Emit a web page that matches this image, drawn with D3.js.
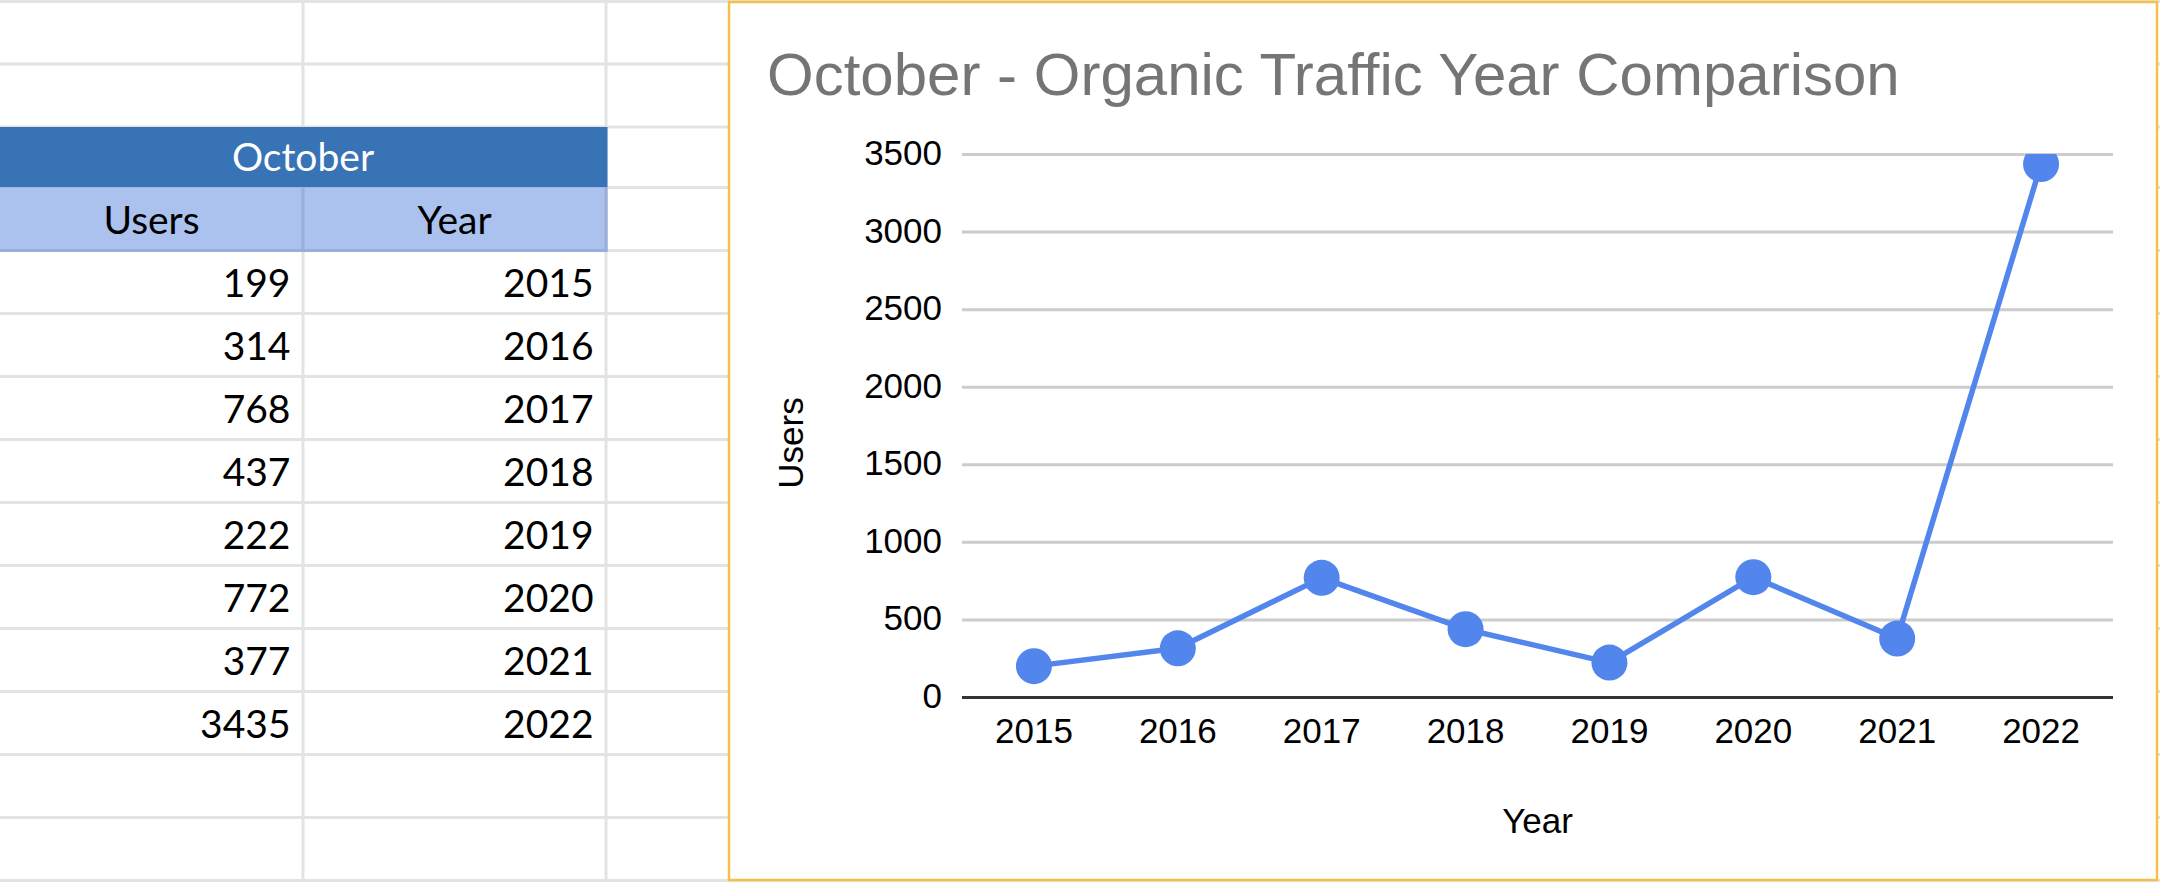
<!DOCTYPE html>
<html>
<head>
<meta charset="utf-8">
<script src="https://cdn.jsdelivr.net/npm/d3@7"></script>
<style>
    html, body { margin: 0; padding: 0; background: #fff; }
    svg { display: block; }
</style>
</head>
<body>
<div id="chart"></div>
<script>
// data read from the sheet
var years = ["2015", "2016", "2017", "2018", "2019", "2020", "2021", "2022"];
var users = [199, 314, 768, 437, 222, 772, 377, 3435];
var yTicks = [0, 500, 1000, 1500, 2000, 2500, 3000, 3500];
var tableTitle = "October";
var tableHeaders = ["Users", "Year"];
var chartTitle = "October - Organic Traffic Year Comparison";
var xTitle = "Year";
var yTitle = "Users";

class SheetView {
    constructor(container) {
        this._container = container;
        this._width = 2160;
        this._height = 882;
        this._svg = null;

        // sheet grid
        this._cols = [0, 303, 606, 909];
        this._rows = [1.5, 64, 127, 187.5].concat(d3.range(11).map(function(k) { return 250.5 + 63 * k; }));

        // chart box + plot area
        this._box = { x: 729, y: 2, w: 1428, h: 878 };
        this._plot = { left: 962, right: 2113, top: 154, bottom: 697 };

        this._style = {
            cellFont: "Lato, 'Noto Sans', sans-serif",
            chartFont: "'Liberation Sans', Arial, sans-serif",
            gridColor: "#e2e3e3",
            headDark: "#3873b6",
            headLight: "#abc2ef",
            headBorder: "#9badd9",
            lineColor: "#5386ec"
        };
    }

    render() {
        this._svg = d3.select(this._container).append("svg")
            .attr("width", this._width)
            .attr("height", this._height);

        this._drawTable();
        this._drawChart();
        return this;
    }

    _drawTable() {
        var s = this._style, cols = this._cols, rows = this._rows, svg = this._svg;
        var g = svg.append("g").attr("class", "sheet");

        g.selectAll("line.h").data(rows).enter().append("line")
            .attr("class", "h")
            .attr("x1", 0).attr("x2", this._width)
            .attr("y1", function(d) { return d; }).attr("y2", function(d) { return d; })
            .attr("stroke", s.gridColor).attr("stroke-width", 3);

        g.selectAll("line.v").data(cols.slice(1)).enter().append("line")
            .attr("class", "v")
            .attr("x1", function(d) { return d; }).attr("x2", function(d) { return d; })
            .attr("y1", 0).attr("y2", this._height)
            .attr("stroke", s.gridColor).attr("stroke-width", 3);

        // merged title row
        g.append("rect")
            .attr("x", 0).attr("y", rows[2])
            .attr("width", cols[2] + 1.5).attr("height", rows[3] - rows[2])
            .attr("fill", s.headDark);
        g.append("text")
            .attr("x", cols[2] / 2).attr("y", rows[3] - 16.5)
            .attr("text-anchor", "middle")
            .attr("font-family", s.cellFont).attr("font-size", 39)
            .attr("fill", "#fff")
            .text(tableTitle);

        // column header row
        g.append("rect")
            .attr("x", 0).attr("y", rows[3])
            .attr("width", cols[2] + 1.5).attr("height", rows[4] - rows[3])
            .attr("fill", s.headLight);
        g.append("line")
            .attr("x1", 0).attr("x2", cols[2] + 1.5)
            .attr("y1", rows[4]).attr("y2", rows[4])
            .attr("stroke", s.headBorder).attr("stroke-width", 3);
        g.selectAll("line.hv").data(cols.slice(1, 3)).enter().append("line")
            .attr("class", "hv")
            .attr("x1", function(d) { return d; }).attr("x2", function(d) { return d; })
            .attr("y1", rows[3]).attr("y2", rows[4] + 1.5)
            .attr("stroke", s.headBorder).attr("stroke-width", 3);

        g.selectAll("text.head").data(tableHeaders).enter().append("text")
            .attr("class", "head")
            .attr("x", function(d, i) { return (cols[i] + cols[i + 1]) / 2; })
            .attr("y", rows[4] - 16.5)
            .attr("text-anchor", "middle")
            .attr("font-family", s.cellFont).attr("font-size", 39)
            .attr("fill", "#000")
            .text(function(d) { return d; });

        // value rows
        var cells = [];
        users.forEach(function(u, i) {
            cells.push({ col: 0, row: i + 4, text: String(u) });
            cells.push({ col: 1, row: i + 4, text: years[i] });
        });

        g.selectAll("text.cell").data(cells).enter().append("text")
            .attr("class", "cell")
            .attr("x", function(d) { return cols[d.col + 1] - 12.5; })
            .attr("y", function(d) { return rows[d.row + 1] - 16.5; })
            .attr("text-anchor", "end")
            .attr("font-family", s.cellFont).attr("font-size", 39)
            .attr("fill", "#000")
            .text(function(d) { return d.text; });
    }

    _drawChart() {
        var s = this._style, b = this._box, p = this._plot, svg = this._svg;
        var g = svg.append("g").attr("class", "chart");

        g.append("rect")
            .attr("x", b.x).attr("y", b.y)
            .attr("width", b.w).attr("height", b.h)
            .attr("fill", "#fff")
            .attr("stroke", "#f3c14b").attr("stroke-width", 2.5);

        g.append("text")
            .attr("x", 767).attr("y", 95)
            .attr("font-family", s.chartFont).attr("font-size", 60)
            .attr("fill", "#757575")
            .text(chartTitle);

        var xScale = d3.scaleBand().domain(years).range([p.left, p.right]);
        var yScale = d3.scaleLinear().domain([0, 3500]).range([p.bottom, p.top]);

        // gridlines + y labels
        var yAxis = d3.axisLeft(yScale)
            .tickValues(yTicks)
            .tickSize(-(p.right - p.left))
            .tickPadding(20)
            .tickFormat(d3.format("d"));

        var gy = g.append("g")
            .attr("transform", "translate(" + p.left + ",0)")
            .call(yAxis);
        gy.select(".domain").remove();
        gy.selectAll(".tick line")
            .attr("stroke", function(d) { return d === 0 ? "#333" : "#cccccc"; })
            .attr("stroke-width", 3);
        gy.selectAll(".tick text")
            .attr("font-family", s.chartFont).attr("font-size", 35)
            .attr("fill", "#000")
            .attr("dy", "0.3em");
        // baseline on top of the rest
        gy.selectAll(".tick").filter(function(d) { return d === 0; }).raise();

        var xAxis = d3.axisBottom(xScale).tickSize(0).tickPadding(21);
        var gx = g.append("g")
            .attr("transform", "translate(0," + p.bottom + ")")
            .call(xAxis);
        gx.select(".domain").remove();
        gx.selectAll(".tick text")
            .attr("font-family", s.chartFont).attr("font-size", 35)
            .attr("fill", "#000")
            .attr("dy", "0.71em");

        g.append("text")
            .attr("x", (p.left + p.right) / 2).attr("y", 833)
            .attr("text-anchor", "middle")
            .attr("font-family", s.chartFont).attr("font-size", 35)
            .attr("fill", "#000")
            .text(xTitle);

        g.append("text")
            .attr("transform", "translate(803,443) rotate(-90)")
            .attr("text-anchor", "middle")
            .attr("font-family", s.chartFont).attr("font-size", 35)
            .attr("fill", "#000")
            .text(yTitle);

        // series, clipped to the plot area
        svg.append("defs").append("clipPath").attr("id", "plotClip")
            .append("rect")
            .attr("x", b.x).attr("y", p.top)
            .attr("width", b.w).attr("height", p.bottom - p.top + 40);

        var pts = years.map(function(y, i) { return { year: y, value: users[i] }; });
        var cx = function(d) { return xScale(d.year) + xScale.bandwidth() / 2; };
        var cy = function(d) { return yScale(d.value); };

        var series = g.append("g").attr("clip-path", "url(#plotClip)");
        series.append("path")
            .datum(pts)
            .attr("d", d3.line().x(cx).y(cy))
            .attr("fill", "none")
            .attr("stroke", s.lineColor)
            .attr("stroke-width", 5.5)
            .attr("stroke-linejoin", "round");

        series.selectAll("circle").data(pts).enter().append("circle")
            .attr("cx", cx).attr("cy", cy)
            .attr("r", 18)
            .attr("fill", s.lineColor);
    }
}

new SheetView("#chart").render();
</script>
</body>
</html>
